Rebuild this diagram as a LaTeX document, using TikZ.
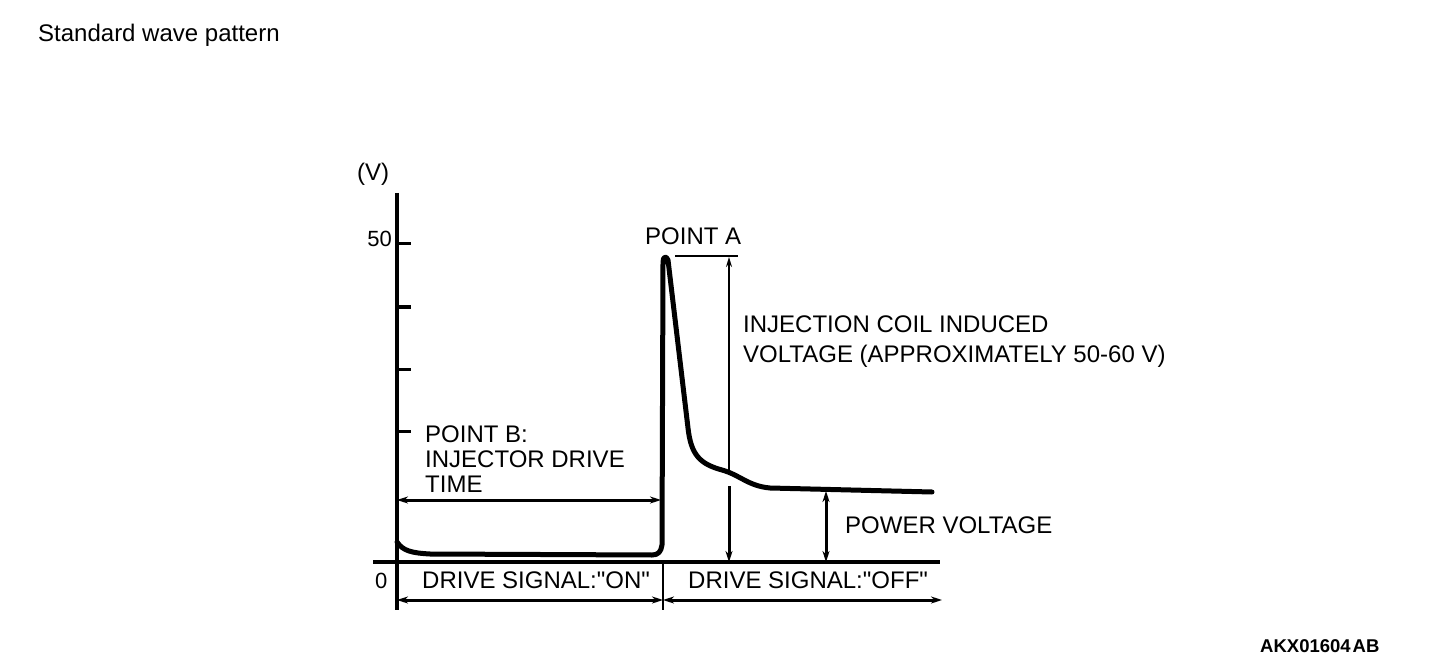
\documentclass[tikz,border=0pt]{standalone}
\usepackage{fontspec}
\setmainfont{Liberation Sans}
\usetikzlibrary{arrows.meta}
\newcommand{\sq}{\textquotedbl}
\begin{document}
\begin{tikzpicture}[x=1pt,y=-1pt,
  lbl/.style={inner sep=0pt, anchor=base west, font=\fontsize{24}{25}\selectfont},
  num/.style={inner sep=0pt, font=\fontsize{22}{24}\selectfont},
  axisline/.style={line width=3.6pt},
  baseline/.style={line width=4pt},
  wave/.style={line width=5pt, line join=round, line cap=round},
  tickline/.style={line width=3pt},
  dimboth/.style={line width=3pt, {Stealth[length=11pt,width=7pt]}-{Stealth[length=11pt,width=7pt]}},
  dimend/.style={line width=3pt, -{Stealth[length=11pt,width=7pt]}},
  thinarrow/.style={line width=1.4pt, -{Stealth[length=10pt,width=6pt]}},
  thinline/.style={line width=1.3pt}
]
\useasboundingbox (0,0) rectangle (1440,668);

% texts
\node[lbl] (title) at (38,42) {Standard wave pattern};
\node[lbl] (vunit) at (357,181) {(V)};
\node[num, anchor=base east] (n50) at (392,247) {50};
\node[num, anchor=base west] (n0) at (375,588) {0};
\node[lbl] (pa) at (645,245) {POINT A};
\node[lbl] (inj1) at (743,332) {INJECTION COIL INDUCED};
\node[lbl] (inj2) at (743,362) {VOLTAGE (APPROXIMATELY 50-60 V)};
\node[lbl] (pb1) at (425,442) {POINT B:};
\node[lbl] (pb2) at (425,467) {INJECTOR DRIVE};
\node[lbl] (pb3) at (425,492) {TIME};
\node[lbl] (pv) at (845,533) {POWER VOLTAGE};
\node[lbl] (on) at (422,588) {DRIVE SIGNAL:\sq ON\sq};
\node[lbl] (off) at (688,588) {DRIVE SIGNAL:\sq OFF\sq};
\node[inner sep=0pt, anchor=base west, font=\fontsize{18.5}{20}\selectfont\bfseries] (code) at (1260,652) {AKX01604\hspace{2pt}AB};

% axis
\coordinate (axtop) at (397,193);
\coordinate (axbot) at (397,610);
\draw[axisline] (axtop) -- (axbot);
\foreach \yy/\nm in {244/a,307/b,369/c,431/d}{
  \coordinate (tk\nm s) at (397,\yy);
  \coordinate (tk\nm e) at (411,\yy);
  \draw[tickline] (tk\nm s) -- (tk\nm e);
}
\coordinate (bl0) at (373,562);
\coordinate (bl1) at (940,562);
\draw[baseline] (bl0) -- (bl1);
\coordinate (dv0) at (663,562);
\coordinate (dv1) at (663,610);
\draw[line width=2.5pt] (dv0) -- (dv1);

% waveform
\draw[wave] (397,542) .. controls (403,551) and (412,553) .. (430,554)
  -- (652,555) .. controls (658,555) and (661,552) .. (662,545)
  -- (663,262) .. controls (663,257) and (666,255) .. (668,260)
  -- (688,428) .. controls (691,455) and (700,464) .. (722,470)
  .. controls (740,475) and (748,486) .. (770,488) -- (932,492);

% dimension arrows
\coordinate (onL) at (397,600);
\coordinate (onR) at (663,600);
\coordinate (offR) at (942,600);
\draw[dimboth] (onL) -- (onR);
\draw[dimboth] (onR) -- (offR);
\coordinate (pbL) at (397,500);
\coordinate (pbR) at (661,500);
\draw[dimboth] (pbL) -- (pbR);
\coordinate (paL) at (675,256);
\coordinate (paR) at (738,256);
\draw[thinline] (paL) -- (paR);
\coordinate (ijTop) at (729,257);
\coordinate (ijMid) at (729,472);
\draw[thinarrow] (ijMid) -- (ijTop);
\coordinate (ijLow) at (729,486);
\coordinate (ijBot) at (729,562);
\draw[dimend] (ijLow) -- (ijBot);
\coordinate (pvTop) at (826,491);
\coordinate (pvBot) at (826,562);
\draw[dimboth] (pvBot) -- (pvTop);
\end{tikzpicture}
\end{document}
